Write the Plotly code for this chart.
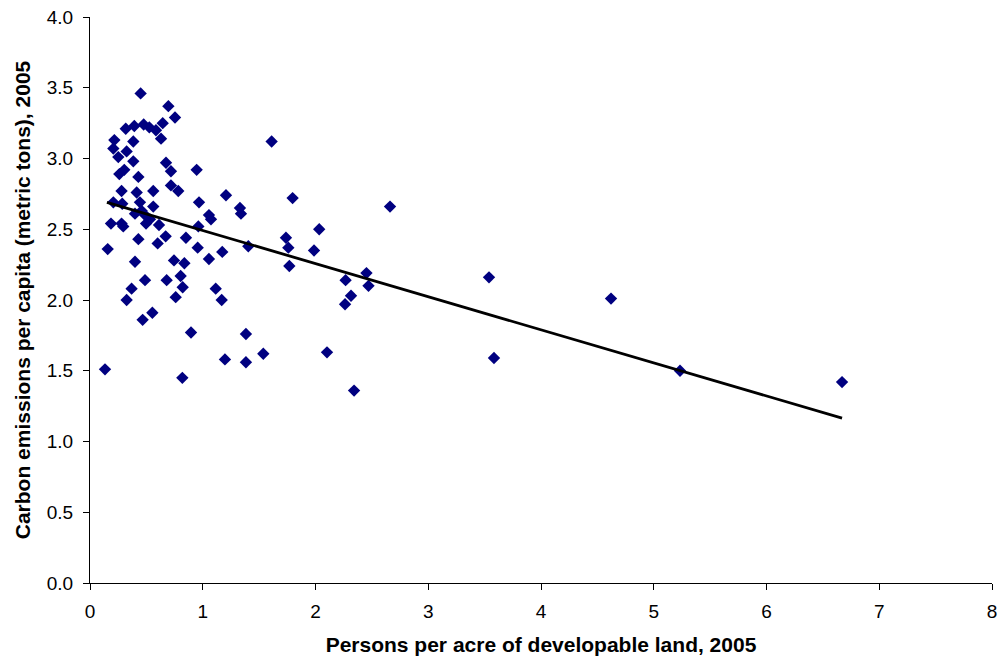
import plotly.graph_objects as go

density = [
    0.449, 0.695, 0.754, 0.645, 0.317, 0.393, 0.476, 0.526, 0.585, 0.630,
    0.216, 0.384, 0.207, 0.325, 0.251, 0.384, 0.674, 0.718, 0.946, 0.304,
    0.260, 0.429, 0.718, 0.783, 0.280, 0.414, 0.561, 1.206, 0.207, 0.286,
    0.443, 0.561, 0.967, 0.399, 0.458, 0.488, 1.055, 1.073, 0.186, 0.280,
    0.295, 0.497, 0.532, 0.612, 0.961, 0.157, 0.429, 0.671, 0.600, 0.851,
    0.955, 1.055, 1.173, 0.399, 0.745, 0.837, 0.488, 0.680, 0.804, 0.822,
    0.369, 0.325, 0.760, 1.115, 1.168, 0.553, 0.467, 0.896, 0.133, 0.819,
    1.197, 1.611, 1.797, 2.661, 1.330, 1.339, 2.033, 1.738, 1.404, 1.759,
    1.987, 1.768, 2.452, 2.267, 2.470, 2.315, 2.262, 1.383, 1.383, 1.537,
    2.102, 2.342, 3.539, 3.583, 4.621, 5.233, 6.670,
]
emissions = [
    3.46, 3.37, 3.29, 3.25, 3.21, 3.23, 3.24, 3.22, 3.20, 3.14,
    3.13, 3.12, 3.07, 3.05, 3.01, 2.98, 2.97, 2.91, 2.92, 2.92,
    2.89, 2.87, 2.81, 2.77, 2.77, 2.76, 2.77, 2.74, 2.69, 2.68,
    2.69, 2.66, 2.69, 2.61, 2.63, 2.60, 2.60, 2.57, 2.54, 2.54,
    2.52, 2.54, 2.57, 2.53, 2.52, 2.36, 2.43, 2.45, 2.40, 2.44,
    2.37, 2.29, 2.34, 2.27, 2.28, 2.26, 2.14, 2.14, 2.17, 2.09,
    2.08, 2.00, 2.02, 2.08, 2.00, 1.91, 1.86, 1.77, 1.51, 1.45,
    1.58, 3.12, 2.72, 2.66, 2.65, 2.61, 2.50, 2.44, 2.38, 2.37,
    2.35, 2.24, 2.19, 2.14, 2.10, 2.03, 1.97, 1.76, 1.56, 1.62,
    1.63, 1.36, 2.16, 1.59, 2.01, 1.50, 1.42,
]
trend_x = [0.15, 6.67]
trend_y = [2.69, 1.165]

x_ticks = [0, 1, 2, 3, 4, 5, 6, 7, 8]
y_ticks = [0.0, 0.5, 1.0, 1.5, 2.0, 2.5, 3.0, 3.5, 4.0]
y_tick_labels = [f"{v:.1f}" for v in y_ticks]

fig = go.Figure()
fig.add_trace(go.Scatter(
    x=density, y=emissions, mode="markers",
    marker=dict(symbol="diamond", size=9.5, color="#000080", line=dict(width=0)),
    showlegend=False, hoverinfo="x+y",
))
fig.add_trace(go.Scatter(
    x=trend_x, y=trend_y, mode="lines",
    line=dict(color="black", width=2.8), showlegend=False, hoverinfo="skip",
))

font_family = "Liberation Sans, Arial, sans-serif"
fig.update_layout(
    width=998, height=662,
    margin=dict(l=90, r=6, t=17, b=79),
    paper_bgcolor="white", plot_bgcolor="white",
    font=dict(family=font_family, size=19, color="black"),
    xaxis=dict(
        range=[0, 8], tickvals=x_ticks, ticktext=[str(v) for v in x_ticks],
        showgrid=False, zeroline=False, showline=True, linecolor="black", linewidth=1,
        ticks="outside", ticklen=6, tickcolor="black", automargin=False,
        tickfont=dict(size=19), ticklabelstandoff=5,
        title=dict(text="<b>Persons per acre of developable land, 2005</b>",
                   font=dict(size=21), standoff=16),
    ),
    yaxis=dict(
        range=[0, 4], tickvals=y_ticks, ticktext=y_tick_labels,
        showgrid=False, zeroline=False, showline=True, linecolor="black", linewidth=1,
        ticks="outside", ticklen=6, tickcolor="black", automargin=False,
        tickfont=dict(size=19), ticklabelstandoff=6,
        title=dict(text="<b>Carbon emissions per capita (metric tons), 2005</b>",
                   font=dict(size=21), standoff=10),
    ),
)
fig.write_html("out.html")
